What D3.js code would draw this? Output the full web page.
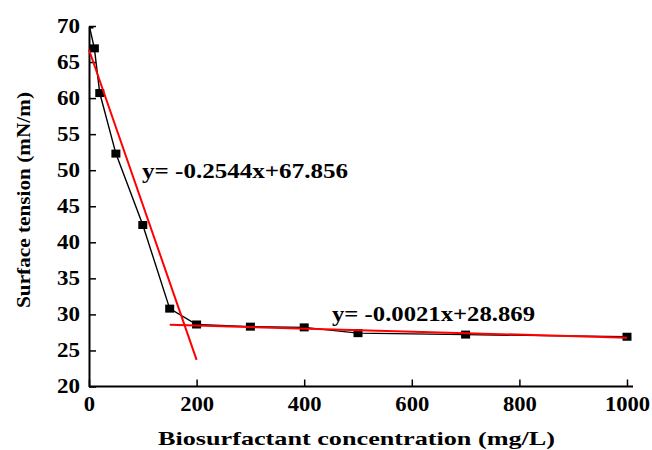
<!DOCTYPE html>
<html>
<head>
<meta charset="utf-8">
<script src="https://cdn.jsdelivr.net/npm/d3@7"></script>
<style>
  body { margin: 0; background: #fff; }
  svg text { font-family: "Liberation Serif", serif !important; font-weight: bold; }
</style>
</head>
<body>
<div class="chart"></div>
<script>
// measured surface tension vs concentration
var concentration = [0, 10, 20, 50, 100, 150, 200, 300, 400, 500, 700, 1000];
var tension = [70.2, 66.9, 60.7, 52.3, 42.4, 30.8, 28.6, 28.3, 28.2, 27.4, 27.2, 26.9];

// fitted lines (as drawn)
var fit1X = [0, 200];
var fit1Y = [66.7, 23.7];
var fit2X = [150, 1000];
var fit2Y = [28.55, 26.77];

var xTicks = [0, 200, 400, 600, 800, 1000];
var yTicks = [20, 25, 30, 35, 40, 45, 50, 55, 60, 65, 70];

var svgWidth = 652;
var svgHeight = 450;

var svg = d3.select(".chart")
  .append("svg")
  .attr("width", svgWidth)
  .attr("height", svgHeight);

var xScale = d3.scaleLinear().domain([0, 1000]).range([89, 627]);
var yScale = d3.scaleLinear().domain([20, 70]).range([386.5, 26]);

// x axis
var bottomAxis = d3.axisBottom(xScale)
  .tickValues(xTicks)
  .tickFormat(d3.format("d"))
  .tickSizeInner(-7)
  .tickSizeOuter(0)
  .tickPadding(10);

var xAxis = svg.append("g")
  .attr("transform", `translate(0, ${yScale(20)})`)
  .call(bottomAxis);
xAxis.select(".domain").remove();
xAxis.append("line")
  .attr("x1", xScale(0)).attr("x2", 633)
  .attr("stroke", "#000").attr("stroke-width", 2);

// y axis
var leftAxis = d3.axisLeft(yScale)
  .tickValues(yTicks)
  .tickSizeInner(-7)
  .tickSizeOuter(0)
  .tickPadding(9);

var yAxis = svg.append("g")
  .attr("transform", `translate(${xScale(0)}, 0)`)
  .call(leftAxis);
yAxis.select(".domain").attr("stroke-width", 2);

svg.selectAll(".tick line").attr("stroke-width", 1.5);
svg.selectAll(".tick text")
  .style("font-size", "20px")
  .style("font-family", "'Liberation Serif'")
  .style("font-weight", "bold")
  .attr("fill", "#000");

// widen the x labels a little like the original
xAxis.selectAll(".tick text")
  .attr("textLength", d => String(d).length * 11.3)
  .attr("lengthAdjust", "spacingAndGlyphs");
yAxis.selectAll(".tick text")
  .attr("textLength", 23)
  .attr("lengthAdjust", "spacingAndGlyphs");

// clip to plot area
svg.append("clipPath").attr("id", "plot")
  .append("rect")
  .attr("x", xScale(0) + 1).attr("y", yScale(70))
  .attr("width", 560).attr("height", yScale(20) - yScale(70));

var plot = svg.append("g").attr("clip-path", "url(#plot)");

var pts = concentration.map((c, i) => ({ x: c, y: tension[i] }));

var line = d3.line().x(d => xScale(d.x)).y(d => yScale(d.y));

plot.append("path")
  .datum(pts)
  .attr("d", line)
  .attr("fill", "none")
  .attr("stroke", "#000")
  .attr("stroke-width", 1.4);

plot.selectAll("rect.pt")
  .data(pts)
  .enter()
  .append("rect")
  .attr("class", "pt")
  .attr("x", d => xScale(d.x) - 4.5)
  .attr("y", d => yScale(d.y) - 4)
  .attr("width", 9)
  .attr("height", 8)
  .attr("fill", "#000");

// red fitted lines
[[fit1X, fit1Y], [fit2X, fit2Y]].forEach(function(f) {
  svg.append("line")
    .attr("x1", xScale(f[0][0])).attr("y1", yScale(f[1][0]))
    .attr("x2", xScale(f[0][1])).attr("y2", yScale(f[1][1]))
    .attr("stroke", "#f00")
    .attr("stroke-width", 2);
});

// equations
svg.append("text")
  .attr("x", 142).attr("y", 178)
  .style("font-size", "20px")
  .attr("textLength", 206)
  .attr("lengthAdjust", "spacingAndGlyphs")
  .text("y= -0.2544x+67.856");

svg.append("text")
  .attr("x", 332).attr("y", 321)
  .style("font-size", "20px")
  .attr("textLength", 203)
  .attr("lengthAdjust", "spacingAndGlyphs")
  .text("y= -0.0021x+28.869");

// axis titles
svg.append("text")
  .attr("x", 158).attr("y", 445)
  .style("font-size", "19px")
  .attr("textLength", 397)
  .attr("lengthAdjust", "spacingAndGlyphs")
  .text("Biosurfactant concentration (mg/L)");

svg.append("text")
  .attr("transform", "translate(30, 308) rotate(-90)")
  .style("font-size", "19px")
  .attr("textLength", 216)
  .attr("lengthAdjust", "spacingAndGlyphs")
  .text("Surface tension (mN/m)");
</script>
</body>
</html>
